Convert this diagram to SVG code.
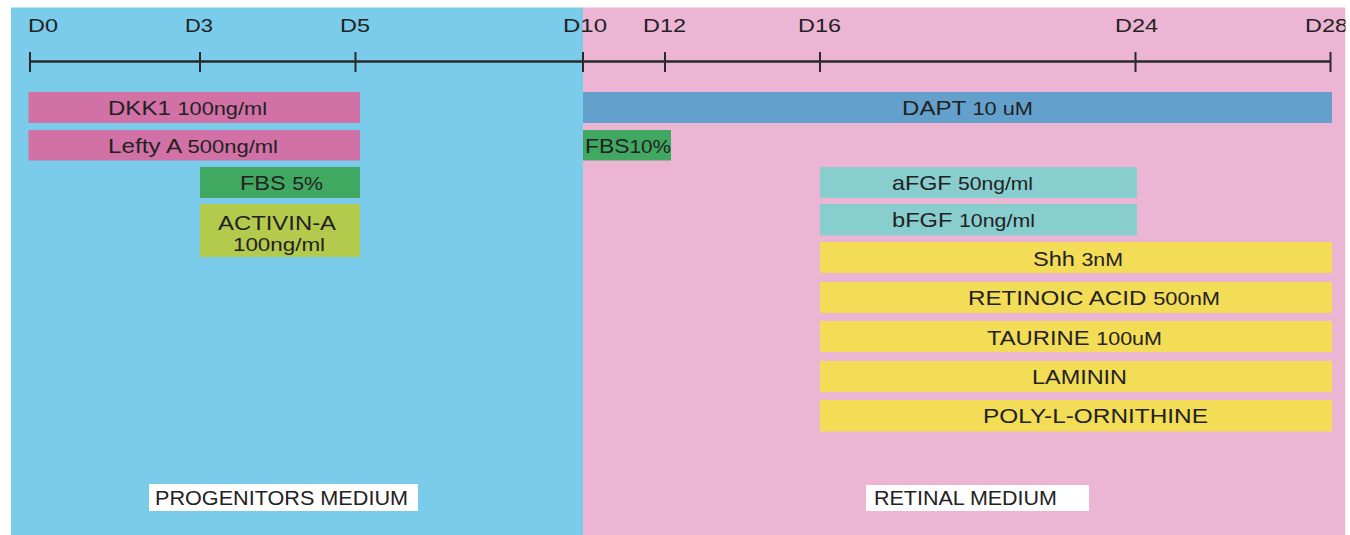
<svg xmlns="http://www.w3.org/2000/svg" width="1350" height="535" viewBox="0 0 1350 535">
<style>
text{font-family:"Liberation Sans",Arial,sans-serif;fill:#222;}
.nm{font-size:21px;}
.num{font-size:19px;}
.num2{font-size:18px;}
.day{font-size:19px;}
.lbl{font-size:21px;}
.tick{stroke:#2a2a2a;stroke-width:2;}
.axis{stroke:#2a2a2a;stroke-width:2.5;}
.mag{fill:#d271a6;}
.grn{fill:#41a862;}
.act{fill:#b4ca4c;}
.dapt{fill:#63a0cc;}
.teal{fill:#88cece;}
.yel{fill:#f3dc56;}
</style>
<rect x="0" y="0" width="1350" height="535" fill="#ffffff"/>
<g id="backgrounds">
<rect id="progenitors-bg" x="11" y="7.5" width="572" height="527.5" fill="#7accea"/>
<rect id="retinal-bg" x="583" y="7.5" width="762.5" height="527.5" fill="#ebb5d3"/>
</g>
<g id="timeline">
<line class="axis" x1="30" y1="61.5" x2="1330.5" y2="61.5"/>
<line class="tick" x1="30" y1="52" x2="30" y2="72"/>
<line class="tick" x1="200" y1="52" x2="200" y2="72"/>
<line class="tick" x1="355.5" y1="52" x2="355.5" y2="72"/>
<line class="tick" x1="583" y1="52" x2="583" y2="72"/>
<line class="tick" x1="665" y1="52" x2="665" y2="72"/>
<line class="tick" x1="820" y1="52" x2="820" y2="72"/>
<line class="tick" x1="1135.5" y1="52" x2="1135.5" y2="72"/>
<line class="tick" x1="1330.5" y1="52" x2="1330.5" y2="72"/>
<text class="day" x="28" y="31.5" textLength="30" lengthAdjust="spacingAndGlyphs">D0</text>
<text class="day" x="185" y="31.5" textLength="28" lengthAdjust="spacingAndGlyphs">D3</text>
<text class="day" x="340" y="31.5" textLength="30" lengthAdjust="spacingAndGlyphs">D5</text>
<text class="day" x="563" y="31.5" textLength="44" lengthAdjust="spacingAndGlyphs">D10</text>
<text class="day" x="643" y="31.5" textLength="43" lengthAdjust="spacingAndGlyphs">D12</text>
<text class="day" x="798" y="31.5" textLength="43" lengthAdjust="spacingAndGlyphs">D16</text>
<text class="day" x="1115" y="31.5" textLength="43" lengthAdjust="spacingAndGlyphs">D24</text>
<text class="day" x="1305" y="31.5" textLength="43" lengthAdjust="spacingAndGlyphs">D28</text>
</g>
<g id="connectors"></g>
<g id="dkk1">
<rect class="mag" x="28.5" y="92" width="331.5" height="31"/>
<text x="108" y="115" textLength="159" lengthAdjust="spacingAndGlyphs"><tspan class="nm">DKK1 </tspan><tspan class="num">100ng/ml</tspan></text>
</g>
<g id="lefty-a">
<rect class="mag" x="28.5" y="130" width="331.5" height="30.5"/>
<text x="108" y="153" textLength="170" lengthAdjust="spacingAndGlyphs"><tspan class="nm">Lefty A </tspan><tspan class="num">500ng/ml</tspan></text>
</g>
<g id="fbs-5">
<rect class="grn" x="200" y="167" width="160" height="31"/>
<text x="240" y="190" textLength="83" lengthAdjust="spacingAndGlyphs"><tspan class="nm">FBS </tspan><tspan class="num">5%</tspan></text>
</g>
<g id="activin-a">
<rect class="act" x="200" y="204" width="160" height="53"/>
<text class="nm" x="218" y="230" textLength="118" lengthAdjust="spacingAndGlyphs">ACTIVIN-A</text>
<text class="num2" x="233" y="251" textLength="92" lengthAdjust="spacingAndGlyphs">100ng/ml</text>
</g>
<g id="dapt">
<rect class="dapt" x="583" y="92" width="749" height="31"/>
<text x="902" y="115" textLength="131" lengthAdjust="spacingAndGlyphs"><tspan class="nm">DAPT </tspan><tspan class="num">10 uM</tspan></text>
</g>
<g id="fbs-10">
<rect class="grn" x="583" y="130" width="88" height="30.5"/>
<text x="585" y="153" textLength="86" lengthAdjust="spacingAndGlyphs"><tspan class="nm">FBS</tspan><tspan class="num">10%</tspan></text>
</g>
<g id="afgf">
<rect class="teal" x="820" y="167" width="317" height="31"/>
<text x="892" y="190" textLength="141" lengthAdjust="spacingAndGlyphs"><tspan class="nm">aFGF </tspan><tspan class="num">50ng/ml</tspan></text>
</g>
<g id="bfgf">
<rect class="teal" x="820" y="204" width="317" height="31.5"/>
<text x="892" y="227" textLength="143" lengthAdjust="spacingAndGlyphs"><tspan class="nm">bFGF </tspan><tspan class="num">10ng/ml</tspan></text>
</g>
<g id="shh">
<rect class="yel" x="820" y="242" width="512" height="31"/>
<text x="1033" y="266" textLength="90" lengthAdjust="spacingAndGlyphs"><tspan class="nm">Shh </tspan><tspan class="num">3nM</tspan></text>
</g>
<g id="retinoic-acid">
<rect class="yel" x="820" y="282" width="512" height="31"/>
<text x="968" y="305" textLength="252" lengthAdjust="spacingAndGlyphs"><tspan class="nm">RETINOIC ACID </tspan><tspan class="num">500nM</tspan></text>
</g>
<g id="taurine">
<rect class="yel" x="820" y="321" width="512" height="31"/>
<text x="987" y="344.5" textLength="175" lengthAdjust="spacingAndGlyphs"><tspan class="nm">TAURINE </tspan><tspan class="num">100uM</tspan></text>
</g>
<g id="laminin">
<rect class="yel" x="820" y="361" width="512" height="31"/>
<text class="nm" x="1032" y="383.5" textLength="95" lengthAdjust="spacingAndGlyphs">LAMININ</text>
</g>
<g id="poly-l-ornithine">
<rect class="yel" x="820" y="400" width="512" height="31.5"/>
<text class="nm" x="983" y="423" textLength="225" lengthAdjust="spacingAndGlyphs">POLY-L-ORNITHINE</text>
</g>
<g id="progenitors-medium">
<rect x="149" y="484" width="269" height="27" fill="#ffffff"/>
<text class="lbl" x="155" y="505" textLength="253" lengthAdjust="spacingAndGlyphs">PROGENITORS MEDIUM</text>
</g>
<g id="retinal-medium">
<rect x="866" y="485" width="223" height="26" fill="#ffffff"/>
<text class="lbl" x="874" y="505" textLength="183" lengthAdjust="spacingAndGlyphs">RETINAL MEDIUM</text>
</g>
<rect x="1345.5" y="0" width="4.5" height="535" fill="#ffffff"/>
</svg>
